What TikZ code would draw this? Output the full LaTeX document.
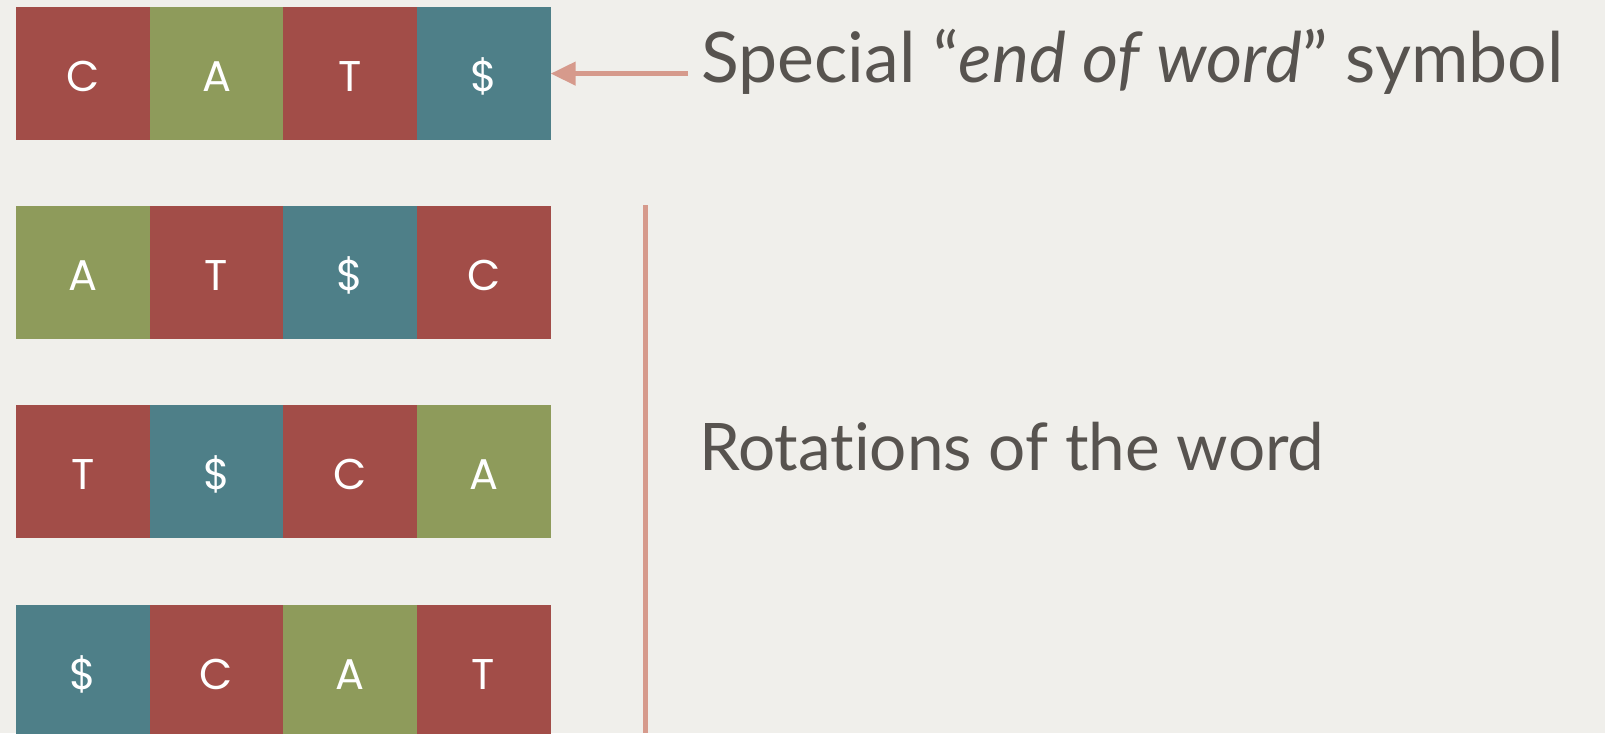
\documentclass[tikz,border=0pt]{standalone}
\usepackage{fontspec}
\setmainfont[Ligatures={NoCommon,NoRare,NoContextual}]{Lato}
\newfontfamily\cellfont{Poppins}
\usetikzlibrary{arrows.meta}
\definecolor{bgc}{HTML}{F0EFEB}
\definecolor{redc}{HTML}{A24D48}
\definecolor{greenc}{HTML}{8E9B5B}
\definecolor{tealc}{HTML}{4E7F88}
\definecolor{txtc}{HTML}{57534F}
\definecolor{salmon}{HTML}{D69A8C}
\tikzset{
  cell/.style={minimum width=133.8pt, minimum height=133pt, inner sep=0pt,
    text=white, font=\cellfont\fontsize{43}{43}\selectfont,
    text height=35pt, text depth=0pt},
  rc/.style={cell, fill=redc},
  gc/.style={cell, fill=greenc},
  tc/.style={cell, fill=tealc},
  label/.style={anchor=base west, inner sep=0pt, text=txtc},
  accent/.style={draw=salmon, line width=4.5pt},
}
\begin{document}
\begin{tikzpicture}[x=1pt,y=-1pt]
\fill[bgc] (0,0) rectangle (1605,733);
\useasboundingbox (0,0) rectangle (1605,733);
\begin{scope}
\clip (0,0) rectangle (1605,733);
% row 1
\node[rc] (r1c1) at (83.3,73.6) {C};
\node[gc] (r1c2) at (216.5,73.6) {A};
\node[rc] (r1c3) at (350.0,73.6) {T};
\node[tc] (r1c4) at (483.6,73.6) {\$};
% row 2
\node[gc] (r2c1) at (83.3,272.6) {A};
\node[rc] (r2c2) at (216.5,272.6) {T};
\node[tc] (r2c3) at (350.0,272.6) {\$};
\node[rc] (r2c4) at (483.6,272.6) {C};
% row 3
\node[rc] (r3c1) at (83.3,471.8) {T};
\node[tc] (r3c2) at (216.5,471.8) {\$};
\node[rc] (r3c3) at (350.0,471.8) {C};
\node[gc] (r3c4) at (483.6,471.8) {A};
% row 4
\node[tc] (r4c1) at (83.3,671.5) {\$};
\node[rc] (r4c2) at (216.5,671.5) {C};
\node[gc] (r4c3) at (350.0,671.5) {A};
\node[rc] (r4c4) at (483.6,671.5) {T};
\end{scope}
% labels
\node[label] (t1) at (701,83) {\resizebox{862pt}{!}{Special “\textit{end of word}” symbol}};
\node[label] (t2) at (699,470) {\resizebox{625pt}{!}{Rotat\kern0pt ions of the word}};
% arrow
\coordinate (aS) at (688,73.6);
\draw[accent, -{Triangle[length=25pt,width=23pt]}] (aS) -- (r1c4.east);
% vertical bar
\coordinate (vT) at (645.5,205);
\coordinate (vB) at (645.5,733);
\draw[draw=salmon, line width=5pt] (vT) -- (vB);
\end{tikzpicture}
\end{document}
